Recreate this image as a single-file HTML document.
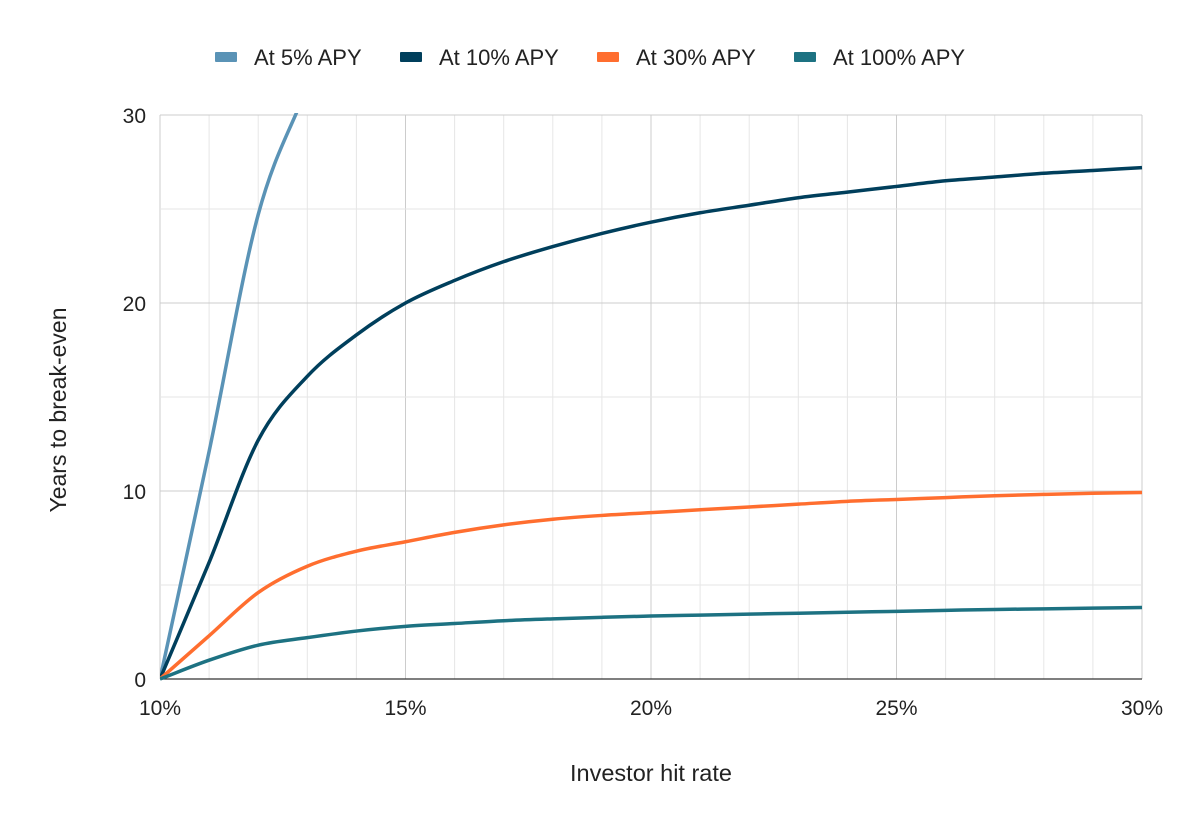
<!DOCTYPE html>
<html><head><meta charset="utf-8"><style>
body{margin:0;background:#fff;font-family:"Liberation Sans",sans-serif;}
svg text{font-family:"Liberation Sans",sans-serif;fill:#222;}
</style></head><body>
<svg id="chart" width="1184" height="828" viewBox="0 0 1184 828">
<defs><clipPath id="plotclip"><rect x="160" y="113" width="984" height="568"/></clipPath></defs>
<g id="grid"></g>
<g id="axes"></g>
<g id="series" clip-path="url(#plotclip)"></g>
<g id="legend"></g>
<text x="651" y="781" text-anchor="middle" font-size="23.5">Investor hit rate</text>
<text transform="translate(66,410) rotate(-90)" text-anchor="middle" font-size="23">Years to break-even</text>
</svg>
<script>
const xCats=[10,11,12,13,14,15,16,17,18,19,20,21,22,23,24,25,26,27,28,29,30];
const apy5=[0,12.1,24.7,31.5];
const apy10=[0,6.2,12.7,16.1,18.3,20,21.2,22.2,23,23.7,24.3,24.8,25.2,25.6,25.9,26.2,26.5,26.7,26.9,27.05,27.2];
const apy30=[0,2.3,4.6,6,6.8,7.3,7.8,8.2,8.5,8.7,8.85,9,9.15,9.3,9.45,9.55,9.65,9.75,9.82,9.88,9.92];
const apy100=[0,1,1.8,2.2,2.55,2.8,2.95,3.1,3.2,3.28,3.35,3.4,3.45,3.5,3.55,3.6,3.65,3.7,3.73,3.77,3.8];
const seriesNames=["At 5% APY","At 10% APY","At 30% APY","At 100% APY"];
const seriesColors=["#5a93b6","#003f5c","#ff6e2f","#1d7282"];
const yTicks=[0,10,20,30];
const xTicks=[10,15,20,25,30];
const NS="http://www.w3.org/2000/svg";
const X0=160,X1=1142,Y0=679,Y1=115;
const xs=v=>X0+(v-10)/20*(X1-X0);
const ys=v=>Y0-v/30*(Y0-Y1);
function mk(tag,attrs,parent){const e=document.createElementNS(NS,tag);for(const k in attrs)e.setAttribute(k,attrs[k]);parent.appendChild(e);return e;}
const grid=document.getElementById('grid'),axes=document.getElementById('axes'),ser=document.getElementById('series'),leg=document.getElementById('legend');
for(let v=10;v<=30;v++){const l=mk('line',{x1:xs(v),x2:xs(v),y1:Y1,y2:Y0,stroke:v%5===0?'#cccccc':'#e6e6e6','stroke-width':1},grid);

}
for(let v=0;v<=30;v+=5){const l=mk('line',{x1:X0,x2:X1,y1:ys(v),y2:ys(v),stroke:v%10===0?'#cccccc':'#e6e6e6','stroke-width':1},grid);

}
const ax=mk('line',{x1:X0,x2:X1,y1:Y0,y2:Y0,stroke:'#333','stroke-width':1.2},axes);


yTicks.forEach(v=>{const t=mk('text',{x:146,y:ys(v)+8,'text-anchor':'end','font-size':21},axes);t.textContent=v;

});
xTicks.forEach(v=>{const t=mk('text',{x:xs(v),y:715,'text-anchor':'middle','font-size':21},axes);t.textContent=v+'%';

});
function smooth(pts){const n=pts.length;if(n<2)return'';const d=[],m=[];
for(let i=0;i<n-1;i++)d.push((pts[i+1][1]-pts[i][1])/(pts[i+1][0]-pts[i][0]));
m[0]=d[0];m[n-1]=d[n-2];for(let i=1;i<n-1;i++)m[i]=d[i-1]*d[i]<=0?0:(d[i-1]+d[i])/2;
let s='M'+pts[0][0]+','+pts[0][1];
for(let i=0;i<n-1;i++){const h=pts[i+1][0]-pts[i][0];
s+=' C'+(pts[i][0]+h/3)+','+(pts[i][1]+m[i]*h/3)+' '+(pts[i+1][0]-h/3)+','+(pts[i+1][1]-m[i+1]*h/3)+' '+pts[i+1][0]+','+pts[i+1][1];}
return s;}
[apy5,apy10,apy30,apy100].forEach((arr,k)=>{const pts=arr.map((v,i)=>[xs(xCats[i]),ys(v)]);
const p=mk('path',{d:smooth(pts),fill:'none',stroke:seriesColors[k],'stroke-width':3.5,'stroke-linejoin':'round'},ser);

});
const lx=[215,400,597,794];
seriesNames.forEach((nm,k)=>{const r=mk('rect',{x:lx[k],y:52,width:22,height:10,rx:1,fill:seriesColors[k]},leg);


const t=mk('text',{x:lx[k]+39,y:65,'font-size':22,fill:'#333'},leg);t.textContent=nm;

});
</script>
</body></html>
